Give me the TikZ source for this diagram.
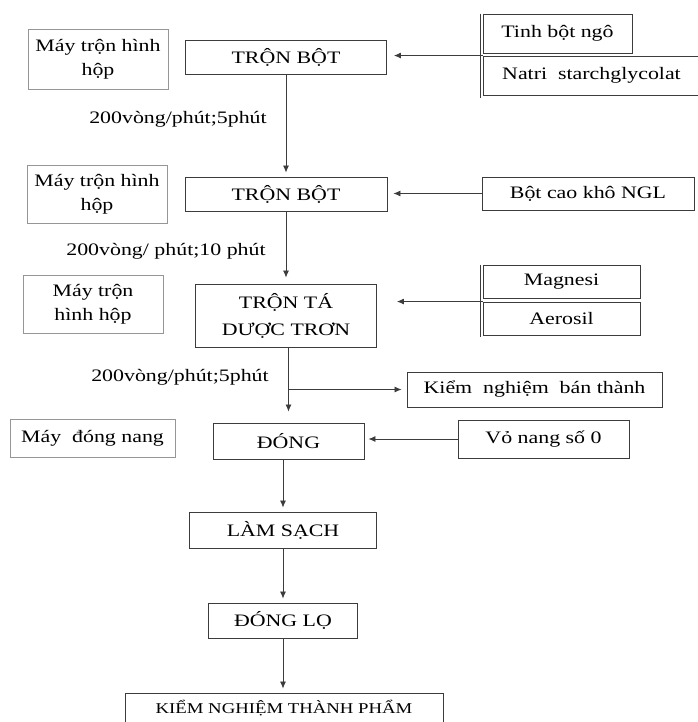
\documentclass[tikz,border=0pt]{standalone}
\usepackage{fontspec}
\setmainfont{Liberation Serif}[FakeStretch=1.25]
\usepackage{tikz}
\usetikzlibrary{shapes,arrows,arrows.meta,positioning}
\definecolor{boxgray}{RGB}{60, 60, 60}
\definecolor{lightgray}{RGB}{150, 150, 150}
\tikzstyle{proc} = [rectangle, draw=boxgray, line width=0.9pt, inner sep=0pt, align=center, text centered, font=\fontsize{17.5}{27}\selectfont]
\tikzstyle{mach} = [rectangle, draw=lightgray, line width=0.9pt, inner sep=0pt, align=center, text centered, font=\fontsize{17.5}{24}\selectfont]
\tikzstyle{inp} = [rectangle, draw=boxgray, line width=0.9pt, inner sep=0pt, align=center, text centered, font=\fontsize{17.5}{24}\selectfont]
\tikzstyle{textonly} = [draw=none, fill=none, inner sep=0pt, text centered, font=\fontsize{17.5}{24}\selectfont]
\tikzstyle{inpline} = [draw=boxgray, line width=0.9pt]
\tikzstyle{tedge}  = [draw=boxgray, line width=0.8pt, >={Latex[length=7pt,width=6pt]}, ->]

\begin{document}
\begin{tikzpicture}[x=1pt, y=-1pt]

\useasboundingbox (0,0) rectangle (697,722);

% machines ===============================
\node[mach, minimum width=140, minimum height=60] (mach1) at (98,59) {Máy trộn hình\\hộp};
\node[mach, minimum width=140, minimum height=58] (mach2) at (97,194) {Máy trộn hình\\hộp};
\node[mach, minimum width=140, minimum height=58] (mach3) at (93,304) {Máy trộn\\hình hộp};
\node[mach, minimum width=165, minimum height=38] (mach4) at (92.5,438) {Máy~ đóng nang};

% steps ==================================
\node[proc, minimum width=201, minimum height=34] (tron1) at (286,57) {TRỘN BỘT};
\node[proc, minimum width=202, minimum height=34] (tron2) at (286,194) {TRỘN BỘT};
\node[proc, minimum width=181, minimum height=63] (trta) at (286,315.5) {TRỘN TÁ\\DƯỢC TRƠN};
\node[proc, minimum width=151, minimum height=36] (dong) at (288.5,441) {ĐÓNG};
\node[proc, minimum width=187, minimum height=36] (lamsach) at (283,530) {LÀM SẠCH};
\node[proc, minimum width=149, minimum height=35] (donglo) at (283,620.5) {ĐÓNG LỌ};
\node[proc, minimum width=318, minimum height=31, font=\fontsize{15}{20}\selectfont] (kiemtp) at (284,708.5) {KIỂM NGHIỆM THÀNH PHẨM};

% inputs =================================
\node[inp, minimum width=149, minimum height=39] (tinh) at (557.5,33.5) {Tinh bột ngô};
\node[inp, minimum width=217, minimum height=39] (natri) at (591.5,75.5) {Natri~ starchglycolat};
\node[inp, minimum width=212, minimum height=33] (botcao) at (588,193.5) {Bột cao khô NGL};
\node[inp, minimum width=157, minimum height=33] (magnesi) at (561.5,281.5) {Magnesi};
\node[inp, minimum width=157, minimum height=33] (aerosil) at (561.5,318.5) {Aerosil};
\node[inp, minimum width=255, minimum height=35] (kiem) at (534.5,389.5) {Kiểm~ nghiệm~ bán thành};
\node[inp, minimum width=171, minimum height=38] (vonang) at (543.5,439) {Vỏ nang số 0};

% speeds
\node[textonly, anchor=base] (rpm1) at (178,124) {200vòng/phút;5phút};
\node[textonly, anchor=base] (rpm2) at (166,255) {200vòng/ phút;10 phút};
\node[textonly, anchor=base] (rpm3) at (180,381) {200vòng/phút;5phút};

% side lines
\path[inpline] ([xshift=-2pt]tinh.north west) -- ([xshift=-2pt,yshift=-3pt]natri.south west);
\path[inpline] ([xshift=-2pt]magnesi.north west) -- ([xshift=-2pt,yshift=-2pt]aerosil.south west);

% edges
\path[tedge, shorten >=4pt] (tron1.south) -- (tron1.south |- tron2.north);
\path[tedge, shorten >=6pt] (tron2.south) -- (tron2.south |- trta.north);
\path[tedge, shorten >=11pt] (dong.north |- trta.south) -- (dong.north);
\path[tedge, shorten >=5pt] (dong.north |- kiem.west) -- (kiem.west);
\path[tedge, shorten >=4pt] (dong.south -| lamsach.north) -- (lamsach.north);
\path[tedge, shorten >=4pt] (lamsach.south) -- (donglo.north);
\path[tedge, shorten >=4pt] (donglo.south) -- (donglo.south |- kiemtp.north);
\path[tedge, shorten >=7pt] (natri.north west) -- (natri.north west -| tron1.east);
\path[tedge, shorten >=6pt] (botcao.west) -- (botcao.west -| tron2.east);
\path[tedge, shorten >=20pt] (aerosil.north west) -- (aerosil.north west -| trta.east);
\path[tedge, shorten >=4pt] (vonang.west) -- (vonang.west -| dong.east);

\end{tikzpicture}
\end{document}
